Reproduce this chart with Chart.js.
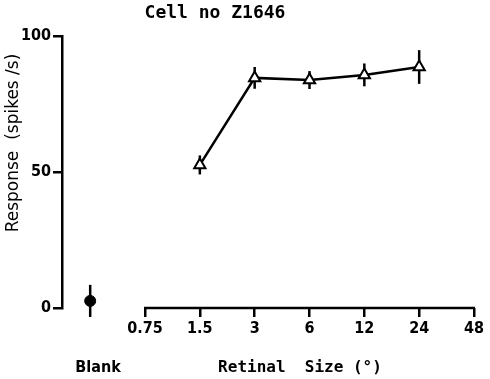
<!DOCTYPE html>
<html>
<head>
<meta charset="utf-8">
<script src="https://cdn.jsdelivr.net/npm/chart.js@4/dist/chart.umd.min.js"></script>
<style>
  html, body { margin: 0; padding: 0; background: #fff; }
  #wrap { width: 490px; height: 379px; }
</style>
</head>
<body>
<div id="wrap"><canvas id="chart"></canvas></div>
<script>
// retinal sizes (deg) and responses (spikes/s)
const sizes = [1.5, 3, 6, 12, 24];
const response = [52.6, 84.6, 83.8, 85.7, 88.6];
const responseErr = [3.5, 4, 3.3, 4.2, 6.2];

// blank condition, placed one octave left of the first tick
const blankX = 0.375;
const blankResponse = [2.6];
const blankErr = [5.9];

const xTicks = [0.75, 1.5, 3, 6, 12, 24, 48];
const yTicks = [0, 50, 100];

const tickFont = { family: 'DejaVu Sans Condensed', size: 16, weight: 'bold' };

// vertical error bars, drawn under the markers
const errorBars = {
    id: 'errorBars',
    beforeDatasetsDraw(chart) {
        const ctx = chart.ctx;
        const x = chart.scales.x;
        const y = chart.scales.y;
        ctx.save();
        ctx.strokeStyle = '#000';
        ctx.lineWidth = 2.5;
        const bar = (xv, yv, e) => {
            const px = x.getPixelForValue(xv);
            ctx.beginPath();
            ctx.moveTo(px, y.getPixelForValue(yv - e));
            ctx.lineTo(px, y.getPixelForValue(yv + e));
            ctx.stroke();
        };
        sizes.forEach((s, i) => bar(s, response[i], responseErr[i]));
        bar(blankX, blankResponse[0], blankErr[0]);
        ctx.restore();
    }
};

// x axis line only spans 0.75 .. 48, plus the free text labels
const extras = {
    id: 'extras',
    afterDraw(chart) {
        const ctx = chart.ctx;
        const x = chart.scales.x;
        const bottom = chart.chartArea.bottom;
        ctx.save();
        ctx.strokeStyle = '#000';
        ctx.lineWidth = 2.5;
        ctx.beginPath();
        ctx.moveTo(x.getPixelForValue(xTicks[0]) - 1, bottom);
        ctx.lineTo(x.getPixelForValue(xTicks[xTicks.length - 1]) + 1, bottom);
        ctx.stroke();

        ctx.fillStyle = '#000';
        ctx.textAlign = 'center';
        ctx.textBaseline = 'middle';
        ctx.font = 'bold 18px "DejaVu Sans Mono"';
        ctx.fillText('Cell no Z1646', 215, 13);
        ctx.font = 'bold 16px "DejaVu Sans Mono"';
        ctx.fillText('Retinal  Size (°)', 300, 368);
        ctx.font = 'bold 16px "DejaVu Sans Condensed"';
        ctx.fillText('Blank', 98, 368);

        ctx.translate(14, 143);
        ctx.rotate(-Math.PI / 2);
        ctx.font = '17px "DejaVu Sans"';
        ctx.fillText('Response  (spikes /s)', 0, 0);
        ctx.restore();
    }
};

new Chart(document.getElementById('chart'), {
    type: 'line',
    data: {
        datasets: [{
            data: sizes.map((s, i) => ({ x: s, y: response[i] })),
            borderColor: '#000',
            borderWidth: 2.5,
            pointStyle: 'triangle',
            pointRadius: 6.5,
            pointBackgroundColor: '#fff',
            pointBorderColor: '#000',
            pointBorderWidth: 2,
            tension: 0
        }, {
            data: [{ x: blankX, y: blankResponse[0] }],
            showLine: false,
            pointStyle: 'circle',
            pointRadius: 5.5,
            pointBackgroundColor: '#000',
            pointBorderColor: '#000',
            pointBorderWidth: 1
        }]
    },
    options: {
        responsive: true,
        maintainAspectRatio: false,
        animation: false,
        clip: false,
        layout: { padding: { top: 36, right: 16, left: 0, bottom: 0 } },
        plugins: {
            legend: { display: false },
            tooltip: { enabled: false }
        },
        scales: {
            x: {
                type: 'logarithmic',
                min: 0.2626,
                max: 48,
                border: { display: false },
                grid: {
                    drawOnChartArea: false,
                    drawTicks: true,
                    tickLength: 9,
                    color: '#000',
                    lineWidth: 2.5
                },
                afterBuildTicks: scale => {
                    scale.ticks = xTicks.map(v => ({ value: v }));
                },
                afterFit: scale => { scale.height = 71; },
                ticks: {
                    autoSkip: false,
                    maxRotation: 0,
                    color: '#000',
                    font: tickFont,
                    padding: 2,
                    callback: v => String(v)
                }
            },
            y: {
                min: 0,
                max: 100,
                border: { display: true, color: '#000', width: 2.5 },
                grid: {
                    drawOnChartArea: false,
                    drawTicks: true,
                    tickLength: 9,
                    color: '#000',
                    lineWidth: 2.5
                },
                afterBuildTicks: scale => {
                    scale.ticks = yTicks.map(v => ({ value: v }));
                },
                afterFit: scale => { scale.width = 62; },
                ticks: {
                    color: '#000',
                    font: tickFont,
                    padding: 2
                }
            }
        }
    },
    plugins: [errorBars, extras]
});
</script>
</body>
</html>
